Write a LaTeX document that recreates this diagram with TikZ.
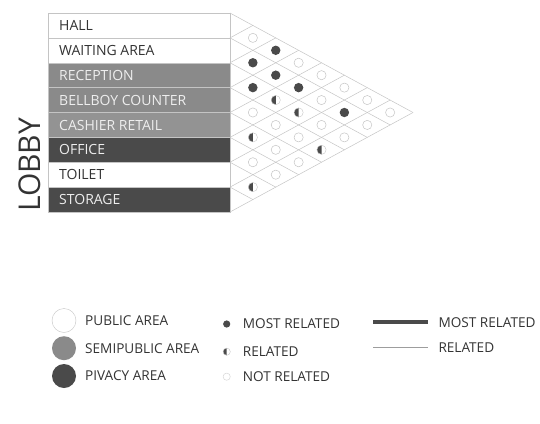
\documentclass[tikz,border=0pt]{standalone}
\usepackage{fontspec}
\setmainfont{Open Sans}
\definecolor{semi}{HTML}{8A8A8A}
\definecolor{priv}{HTML}{4A4A4A}
\definecolor{gridc}{HTML}{C4C4C4}
\definecolor{ink}{HTML}{333333}
\definecolor{pale}{HTML}{EEEEEE}

\begin{document}
\begin{tikzpicture}[x=1pt,y=-1pt,
  rowlabel/.style={anchor=west,inner sep=0pt,font=\fontsize{14}{16}\selectfont},
  legendlabel/.style={anchor=west,inner sep=0pt,text=ink,font=\fontsize{13.6}{16}\selectfont},
  gridline/.style={gridc,line width=0.5pt},
  areadot/.style={circle,inner sep=0pt,minimum size=24pt}]
\useasboundingbox (0,0) rectangle (540,423);

\foreach \name/\fc/\tc [count=\k] in {HALL/white/ink,WAITING AREA/white/ink,
    RECEPTION/semi/pale,BELLBOY COUNTER/semi/pale,CASHIER RETAIL/semi!92!white/pale,
    OFFICE/priv/pale,TOILET/white/ink,STORAGE/priv/pale}{
  \pgfmathsetmacro{\ytop}{13+(\k-1)*24.875}
  \fill[\fc] (48,\ytop) rectangle (230,\ytop+24.875);
  \draw[gridline] (48,\ytop) -- (230,\ytop);
  \node[rowlabel,text=\tc] (row\k) at (59,\ytop+12.6) {\name};
}
\draw[gridline] (48,13) -- (48,212) -- (230,212) -- (230,13);

\foreach \k in {0,...,8}{
  \pgfmathsetmacro{\yb}{13+\k*24.875}
  \draw[gridline] (230,\yb) -- ++({(8-\k)*22.875},{(8-\k)*12.4375});
  \draw[gridline] (230,\yb) -- ++({\k*22.875},{-\k*12.4375});
}

\foreach \i/\j in {1/3,2/3,2/4,3/4,2/5,2/7}{
  \pgfmathsetmacro{\cx}{230+(\j-\i)*22.875}
  \pgfmathsetmacro{\cy}{13+(\i+\j-1)*12.4375}
  \fill[priv] (\cx,\cy) circle (4.7pt);
}
\foreach \i/\j in {3/5,3/6,5/6,4/8,7/8}{
  \pgfmathsetmacro{\cx}{230+(\j-\i)*22.875}
  \pgfmathsetmacro{\cy}{13+(\i+\j-1)*12.4375}
  \fill[priv] (\cx,\cy) ++(0,-4.6) arc (90:270:4.6pt) -- cycle;
  \draw[gridc,line width=0.4pt] (\cx,\cy) circle (4.6pt);
}
\foreach \i/\j in {1/2,1/4,1/5,1/6,1/7,1/8,2/6,2/8,3/7,3/8,4/5,4/6,4/7,5/7,5/8,6/7,6/8}{
  \pgfmathsetmacro{\cx}{230+(\j-\i)*22.875}
  \pgfmathsetmacro{\cy}{13+(\i+\j-1)*12.4375}
  \draw[gridc,line width=0.5pt] (\cx,\cy) circle (4.6pt);
}

\node[rotate=90,text=ink,inner sep=0pt,font=\fontsize{30}{32}\selectfont] (lobby) at (30,165) {LOBBY};

\node[areadot,draw=gridc,fill=white] (publicDot) at (64,320.5) {};
\node[areadot,fill=semi] (semiDot) at (64,348.2) {};
\node[areadot,fill=priv] (privDot) at (64,376) {};
\node[legendlabel] (publicText) at (85,320.5) {PUBLIC AREA};
\node[legendlabel] (semiText) at (85,348.2) {SEMIPUBLIC AREA};
\node[legendlabel] (privText) at (85,376) {PIVACY AREA};

\fill[priv] (226.7,324) circle (3.6pt);
\fill[priv] (226.7,351.7) ++(0,-3.6) arc (90:270:3.6pt) -- cycle;
\draw[gridc,line width=0.4pt] (226.7,351.7) circle (3.6pt);
\draw[gridc!70!white,line width=0.5pt] (226.7,376.7) circle (3.6pt);
\node[legendlabel] (mostText) at (242.7,324) {MOST RELATED};
\node[legendlabel] (relText) at (242.7,351.7) {RELATED};
\node[legendlabel] (notText) at (242.7,376.7) {NOT RELATED};

\coordinate (thickA) at (373,322.3);
\coordinate (thickB) at (428,322.3);
\coordinate (thinA) at (373,347.3);
\coordinate (thinB) at (428,347.3);
\draw[priv,line width=4pt] (thickA) -- (thickB);
\draw[gridc!80!black,line width=0.6pt] (thinA) -- (thinB);
\node[legendlabel] (mostLine) at (438.3,322.3) {MOST RELATED};
\node[legendlabel] (relLine) at (438.3,347.3) {RELATED};
\end{tikzpicture}
\end{document}
